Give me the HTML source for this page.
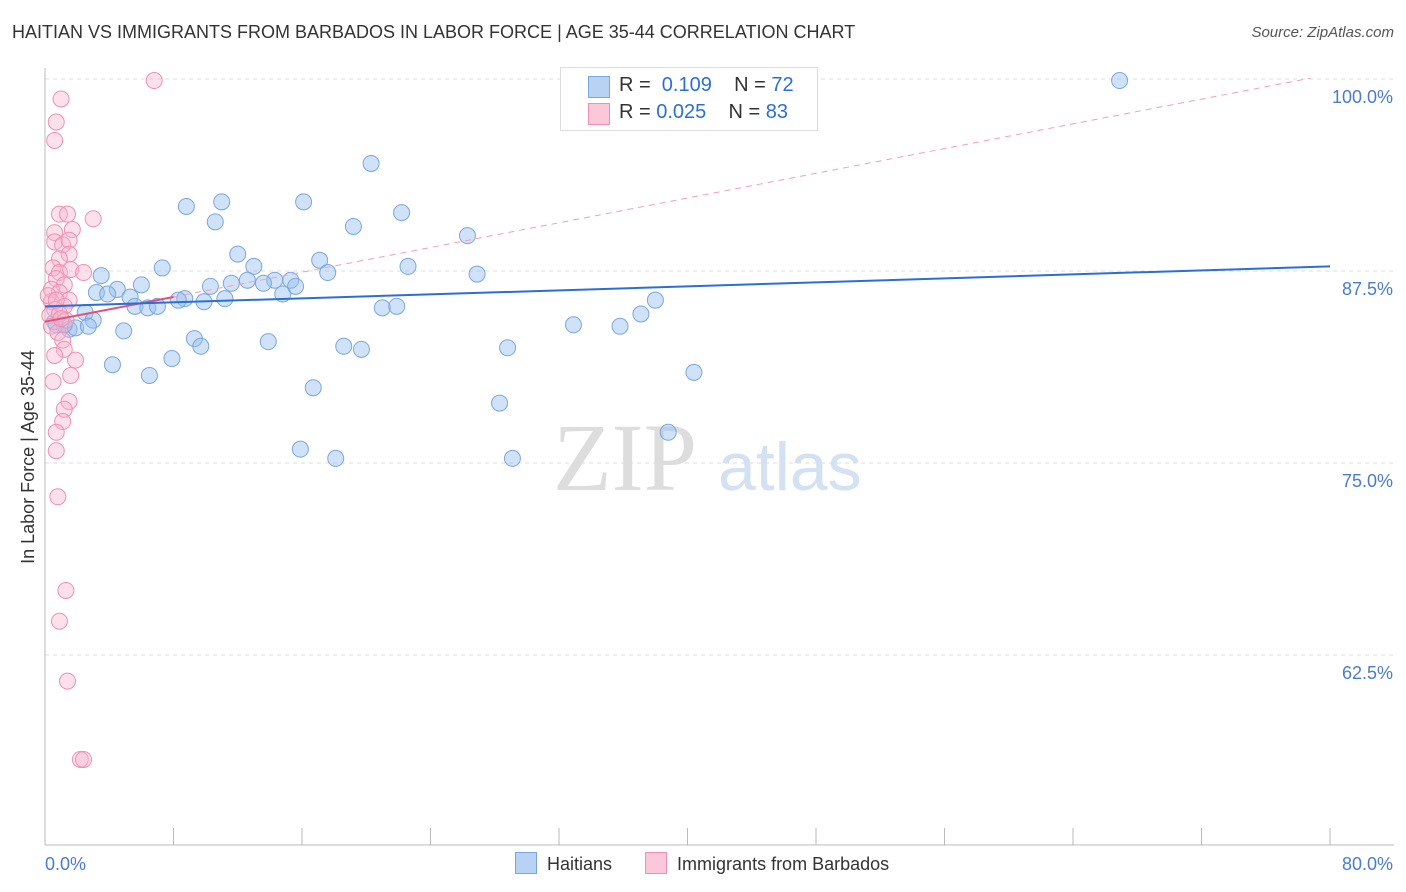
<!DOCTYPE html>
<html><head><meta charset="utf-8"><style>
body{margin:0;background:#fff;font-family:"Liberation Sans",sans-serif;}
#wrap{position:relative;width:1406px;height:892px;overflow:hidden;}
.t{position:absolute;white-space:nowrap;}
</style></head><body><div id="wrap">
<div class="t" style="left:12px;top:22px;font-size:18px;color:#333;">HAITIAN VS IMMIGRANTS FROM BARBADOS IN LABOR FORCE | AGE 35-44 CORRELATION CHART</div>
<div class="t" style="right:12px;top:24px;font-size:15px;color:#555;font-style:italic;">Source: ZipAtlas.com</div>
<svg id="plot" width="1406" height="892" style="position:absolute;left:0;top:0"></svg>
</div>
<script>
const blueX=[66.9,20.3,11.0,8.8,16.1,22.2,10.6,19.2,26.3,12.0,17.1,7.3,13.0,17.6,22.6,26.9,3.5,6.0,11.6,12.6,14.3,15.3,15.6,10.3,13.6,4.5,3.2,3.9,5.3,14.8,8.7,8.3,11.2,9.9,5.6,6.4,7.0,21.0,21.9,38.0,37.1,2.5,3.0,32.9,35.8,0.7,1.5,1.9,2.7,4.9,9.3,13.9,9.7,18.6,19.7,28.8,4.2,7.9,6.5,40.4,16.7,28.3,38.8,15.9,18.1,29.1,1.2,0.6];
const blueY=[99.9,94.5,92.0,91.7,92.0,91.3,90.7,90.4,89.8,88.6,88.2,87.7,87.8,87.4,87.8,87.3,87.2,86.6,86.7,86.9,86.9,86.9,86.5,86.5,86.7,86.3,86.1,86.0,85.8,86.0,85.7,85.6,85.7,85.5,85.2,85.1,85.2,85.1,85.2,85.6,84.7,84.8,84.3,84.0,83.9,84.0,83.7,83.8,83.9,83.6,83.1,82.9,82.6,82.6,82.4,82.5,81.4,81.8,80.7,80.9,79.9,78.9,77.0,75.9,75.3,75.3,84.0,84.2];
const pinkX=[6.8,1.0,0.7,0.6,3.0,0.9,1.4,0.6,1.7,0.6,1.1,1.5,1.5,0.9,0.5,0.9,1.6,2.4,0.7,1.2,0.4,0.9,1.5,0.4,1.2,0.6,0.3,0.9,1.3,0.4,0.8,1.1,1.2,0.6,1.9,0.5,1.6,1.5,1.2,1.1,0.7,0.7,0.8,1.3,0.9,1.4,2.2,2.4,0.2,0.7,1.0];
const pinkY=[99.9,98.7,97.2,96.0,90.9,91.2,91.2,90.0,90.2,89.4,89.2,89.5,88.6,88.3,87.7,87.4,87.6,87.4,87.0,86.6,86.3,86.1,85.6,85.5,85.2,85.0,84.6,84.7,84.3,83.9,83.5,83.0,82.4,82.0,81.7,80.3,80.7,79.0,78.5,77.7,77.0,75.8,72.8,66.7,64.7,60.8,55.7,55.7,85.9,85.6,84.4];
const blueTrend=[85.2,87.8];
const pinkTrend=[84.2,100.3];
const yTicks=[100,87.5,75,62.5];
const yTickLabels=["100.0%","87.5%","75.0%","62.5%"];
const xTicks=[0,8,16,24,32,40,48,56,64,72,80];

const NS="http://www.w3.org/2000/svg";
const svg=document.getElementById('plot');
const X=v=>45+v*1285/80;
const Y=v=>79+(100-v)*15.36;
function el(t,a,p){const e=document.createElementNS(NS,t);for(const k in a)e.setAttribute(k,a[k]);(p||svg).appendChild(e);return e;}
// gridlines
yTicks.forEach((v,i)=>{
 const g=el('line',{x1:45,x2:1394,y1:Y(v),y2:Y(v),stroke:'#ddd','stroke-dasharray':'4,4'});
 
 
 const t=el('text',{x:1393,y:Y(v)+24,'text-anchor':'end','font-size':18,fill:'#4a7bd0','font-family':'Liberation Sans,sans-serif'});
 t.textContent=yTickLabels[i];
 
 
});
// axes
const ax=el('line',{x1:45,x2:1394,y1:845,y2:845,stroke:'#bbb'});


const ay=el('line',{x1:45,x2:45,y1:68,y2:845,stroke:'#bbb'});


xTicks.forEach(v=>{
 const t=el('line',{x1:X(v),x2:X(v),y1:828,y2:845,stroke:'#bbb'});
 
 
});
// watermark
const wm=el('text',{x:553,y:490,'font-size':96,fill:'#ddd','font-family':'Liberation Serif,serif'});wm.textContent='ZIP';


const wm2=el('text',{x:718,y:490,'font-size':68,fill:'#d4e1f3','font-family':'Liberation Sans,sans-serif'});wm2.textContent='atlas';


// points
blueX.forEach((x,i)=>{
 const c=el('circle',{cx:X(x),cy:Y(blueY[i]),r:8,fill:'rgba(150,190,240,0.45)',stroke:'#7aa6e0','stroke-width':1});
 
 
});
pinkX.forEach((x,i)=>{
 const c=el('circle',{cx:X(x),cy:Y(pinkY[i]),r:8,fill:'rgba(248,180,205,0.4)',stroke:'#f090b0','stroke-width':1});
 
 
});
// trends
const pt=v=>pinkTrend[0]+(pinkTrend[1]-pinkTrend[0])*v/80;
const pd=el('line',{x1:X(8),y1:Y(pt(8)),x2:X(78.8),y2:Y(pt(78.8)),stroke:'#f0a0b8','stroke-dasharray':'6,5','stroke-width':1});


const ps=el('line',{x1:X(0),y1:Y(pt(0)),x2:X(8),y2:Y(pt(8)),stroke:'#e0507a','stroke-width':2});


const bl=el('line',{x1:X(0),y1:Y(blueTrend[0]),x2:X(80),y2:Y(blueTrend[1]),stroke:'#2a6fd6','stroke-width':2});


// labels
const yl=el('text',{x:0,y:0,transform:'translate(34,457) rotate(-90)','text-anchor':'middle','font-size':18,fill:'#333','font-family':'Liberation Sans,sans-serif'});yl.textContent='In Labor Force | Age 35-44';


const x0=el('text',{x:45,y:870,'font-size':18,fill:'#4a7bd0','font-family':'Liberation Sans,sans-serif'});x0.textContent='0.0%';


const x1=el('text',{x:1393,y:870,'text-anchor':'end','font-size':18,fill:'#4a7bd0','font-family':'Liberation Sans,sans-serif'});x1.textContent='80.0%';


</script>
<div class="t" style="left:560px;top:67px;width:256px;height:62px;border:1px solid #ddd;background:#fff;font-size:20px;">
 <div style="position:absolute;left:27px;top:8px;width:20px;height:20px;background:#b8d2f4;border:1px solid #7aa6e0"></div>
 <div style="position:absolute;left:58px;top:6px;color:#333">R = <span style="color:#2a6fd6">&nbsp;0.109</span>&nbsp;&nbsp;&nbsp; N = <span style="color:#2a6fd6">72</span></div>
 <div style="position:absolute;left:27px;top:35px;width:20px;height:20px;background:#fac8d8;border:1px solid #f090b0"></div>
 <div style="position:absolute;left:58px;top:33px;color:#333">R = <span style="color:#2a6fd6">0.025</span>&nbsp;&nbsp;&nbsp; N = <span style="color:#2a6fd6">83</span></div>
</div>
<div class="t" style="left:515px;top:852px;font-size:18px;color:#333">
 <span style="display:inline-block;width:20px;height:20px;background:#b8d2f4;border:1px solid #7aa6e0;vertical-align:-4px"></span>&nbsp; Haitians
 <span style="display:inline-block;width:20px;height:20px;background:#fac8d8;border:1px solid #f090b0;vertical-align:-4px;margin-left:28px"></span>&nbsp; Immigrants from Barbados
</div>
</body></html>
